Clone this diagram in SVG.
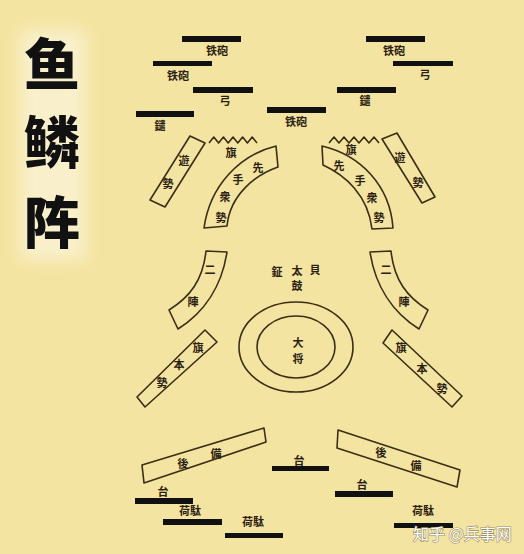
<svg xmlns="http://www.w3.org/2000/svg" width="524" height="554" viewBox="0 0 524 554">
<defs>
<filter id="glow" x="-50%" y="-50%" width="200%" height="200%"><feGaussianBlur stdDeviation="8"/></filter>
<style>
.bar{fill:#111;}
.box{fill:none;stroke:#3a2e14;stroke-width:1.6;stroke-linejoin:round;}
.lb{font-family:"Noto Sans CJK JP","Noto Sans CJK SC",sans-serif;font-size:11px;font-weight:bold;fill:#2a2010;text-anchor:middle;dominant-baseline:central;}
.title{font-family:"Noto Sans CJK SC","Noto Sans CJK JP",sans-serif;font-size:56px;font-weight:900;fill:#111;text-anchor:middle;dominant-baseline:central;}
.wm{font-family:"Noto Sans CJK SC",sans-serif;font-size:16px;fill:#fff;dominant-baseline:central;}
</style>
</defs>
<rect width="524" height="554" fill="#F4E4A1"/>
<rect x="20" y="30" width="66" height="230" fill="#FBF3D6" filter="url(#glow)" opacity="0.8"/>
<g id="title">
<text class="title" x="52" y="60">鱼</text>
<text class="title" x="52" y="138">鳞</text>
<text class="title" x="52" y="218">阵</text>
</g>
<g id="front-units">
<rect class="bar" x="182" y="36" width="59" height="6"/><text class="lb" x="217" y="50">铁砲</text>
<rect class="bar" x="153" y="61" width="59" height="5"/><text class="lb" x="178" y="75">铁砲</text>
<rect class="bar" x="193" y="87" width="60" height="6"/><text class="lb" x="225" y="100">弓</text>
<rect class="bar" x="136" y="111" width="58" height="6"/><text class="lb" x="160" y="125">鑓</text>
<rect class="bar" x="267" y="107" width="59" height="6"/><text class="lb" x="296" y="121">铁砲</text>
<rect class="bar" x="366" y="36" width="59" height="6"/><text class="lb" x="394" y="50">铁砲</text>
<rect class="bar" x="393" y="61" width="60" height="5"/><text class="lb" x="425" y="74">弓</text>
<rect class="bar" x="337" y="87" width="59" height="6"/><text class="lb" x="365" y="100">鑓</text>
</g>
<g id="left-yuzei">
<polygon class="box" points="190,136 205,143 165,207 150,200"/>
<text class="lb" x="184" y="160">遊</text><text class="lb" x="168" y="183">勢</text>
</g>
<g id="right-yuzei">
<polygon class="box" points="382,139 397,133 435,197 422,203"/>
<text class="lb" x="400" y="157">遊</text><text class="lb" x="418" y="182">勢</text>
</g>
<g id="left-flag">
<polyline class="box" points="209,143 213.8,137 218.6,143 223.4,137 228.2,143 233,137 237.8,143 242.6,137 247.4,143 252.2,137 257,143"/>
<text class="lb" x="231" y="152">旗</text>
</g>
<g id="right-flag">
<polyline class="box" points="329,143 334,137 339,143 344,137 349,143 354,137 359,143 364,137 369,143 374,137 379,143"/>
<text class="lb" x="351" y="149">旗</text>
</g>
<g id="left-sakite">
<path class="box" d="M204,228 C210,185 240,155 276,146 L278,167 C255,175 230,195 227,226 Z"/>
<text class="lb" x="258" y="167">先</text><text class="lb" x="238" y="179">手</text><text class="lb" x="225" y="196">衆</text><text class="lb" x="221" y="217">勢</text>
</g>
<g id="right-sakite">
<path class="box" d="M322,146 L323,165 C345,175 368,195 372,229 L393,228 C390,185 360,155 322,146 Z"/>
<text class="lb" x="339" y="165">先</text><text class="lb" x="360" y="180">手</text><text class="lb" x="372" y="197">衆</text><text class="lb" x="379" y="217">勢</text>
</g>
<g id="left-nijin">
<path class="box" d="M206,251 L227,252 C222,285 205,312 178,329 L169,310 C190,297 203,280 206,251 Z"/>
<text class="lb" x="210" y="269">二</text><text class="lb" x="193" y="301">陣</text>
</g>
<g id="right-nijin">
<path class="box" d="M391,251 L370,252 C375,285 392,312 419,329 L428,310 C407,297 394,280 391,251 Z"/>
<text class="lb" x="386" y="269">二</text><text class="lb" x="404" y="301">陣</text>
</g>
<g id="drums">
<text class="lb" x="277" y="271">鉦</text><text class="lb" x="297" y="270">太</text><text class="lb" x="315" y="269">貝</text><text class="lb" x="297" y="285">鼓</text>
</g>
<g id="general">
<ellipse class="box" cx="296" cy="347" rx="57" ry="45"/>
<ellipse class="box" cx="296" cy="347" rx="39" ry="31"/>
<text class="lb" x="298" y="342">大</text><text class="lb" x="298" y="358">将</text>
</g>
<g id="left-hatamoto">
<polygon class="box" points="205,330 217,342 145,407 137,397"/>
<text class="lb" x="198" y="347">旗</text><text class="lb" x="179" y="364">本</text><text class="lb" x="162" y="382">勢</text>
</g>
<g id="right-hatamoto">
<polygon class="box" points="392,330 462,396 452,407 383,343"/>
<text class="lb" x="401" y="347">旗</text><text class="lb" x="422" y="368">本</text><text class="lb" x="442" y="388">勢</text>
</g>
<g id="left-rear">
<polygon class="box" points="142,465 264,428 266,442 144,483"/>
<text class="lb" x="183" y="463">後</text><text class="lb" x="216" y="453">備</text>
</g>
<g id="right-rear">
<polygon class="box" points="338,430 460,470 457,487 337,448"/>
<text class="lb" x="381" y="452">後</text><text class="lb" x="416" y="465">備</text>
</g>
<g id="rear-units">
<rect class="bar" x="272" y="466" width="57" height="5"/><text class="lb" x="299" y="460">台</text>
<rect class="bar" x="135" y="498" width="58" height="6"/><text class="lb" x="163" y="491">台</text>
<rect class="bar" x="163" y="519" width="59" height="6"/><text class="lb" x="190" y="510">荷駄</text>
<rect class="bar" x="225" y="533" width="58" height="5"/><text class="lb" x="253" y="521">荷駄</text>
<rect class="bar" x="335" y="491" width="58" height="6"/><text class="lb" x="362" y="484">台</text>
<rect class="bar" x="394" y="523" width="59" height="5"/><text class="lb" x="423" y="510">荷駄</text>
</g>
<g id="watermark">
<text class="wm" x="413" y="533" style="paint-order:stroke;stroke:#9a8d60;stroke-width:1.2px">知乎 @兵事网</text>
</g>
</svg>
